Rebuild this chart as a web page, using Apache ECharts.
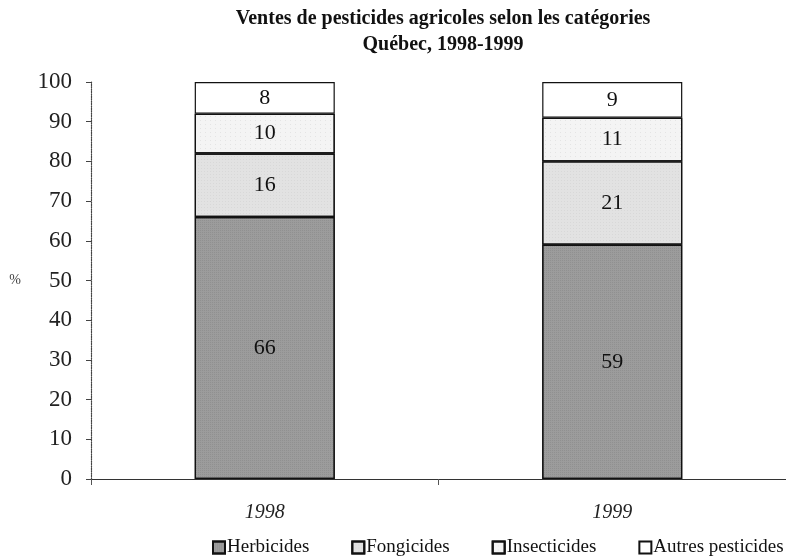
<!DOCTYPE html>
<html><head><meta charset="utf-8">
<script src="https://cdn.jsdelivr.net/npm/echarts@6/dist/echarts.min.js"></script>
<style>html,body{margin:0;padding:0;background:#fff}#c{width:786px;height:560px}</style>
</head><body><div id="c"></div>
<script>
const categories = ['1998', '1999'];
const herbicides = [66, 59];
const fongicides = [16, 21];
const insecticides = [10, 11];
const autres = [8, 9];
const seriesNames = ['Herbicides', 'Fongicides', 'Insecticides', 'Autres pesticides'];
const yTicks = [0, 100, 10];

const serif = '"Liberation Serif", "DejaVu Serif", serif';
const chart = echarts.init(document.getElementById('c'), null, {renderer: 'canvas'});
function mk(name, data, color, decal) {
  return {
    name, type: 'bar', stack: 'all', data, barWidth: '40.3%',
    itemStyle: {color, borderColor: '#111', borderWidth: 1.2, decal},
    label: {show: true, position: 'inside', fontFamily: serif, fontSize: 22, color: '#111'}
  };
}
chart.setOption({
  animation: false,
  backgroundColor: '#fff',
  aria: {enabled: false},
  title: {
    text: 'Ventes de pesticides agricoles selon les catégories\nQuébec, 1998-1999',
    left: 438, top: 1, textAlign: 'center',
    textStyle: {fontFamily: serif, fontWeight: 'bold', fontSize: 20, lineHeight: 26, color: '#111'}
  },
  legend: {
    data: seriesNames, left: 212, bottom: 3, width: 700, padding: 0,
    itemWidth: 12, itemHeight: 12, itemGap: 42, icon: 'rect',
    textStyle: {fontFamily: serif, fontSize: 19, color: '#111', padding: [0, 0, 0, -3]}
  },
  grid: {left: 91, right: -5, top: 82, bottom: 81},
  xAxis: {
    type: 'category', data: categories,
    axisLine: {lineStyle: {color: '#333', width: 1.2}},
    axisTick: {show: true, length: 6, lineStyle: {color: '#555'}},
    axisLabel: {fontFamily: serif, fontStyle: 'italic', fontSize: 20, color: '#222', margin: 24}
  },
  yAxis: {
    type: 'value', min: yTicks[0], max: yTicks[1], interval: yTicks[2],
    name: '%', nameLocation: 'middle', nameGap: 70, nameRotate: 0,
    nameTextStyle: {fontFamily: serif, fontSize: 14, color: '#444'},
    axisLine: {show: true, lineStyle: {color: '#444', type: 'dotted', width: 1.2}},
    axisTick: {show: true, inside: false, length: 5, lineStyle: {color: '#444'}},
    splitLine: {show: false},
    axisLabel: {fontFamily: serif, fontSize: 23, color: '#222', margin: 19}
  },
  series: [
    mk(seriesNames[0], herbicides, '#9c9c9c', {symbol: 'rect', symbolSize: 0.5, color: 'rgba(60,60,60,0.45)', dashArrayX: [1, 1], dashArrayY: [1, 1]}),
    mk(seriesNames[1], fongicides, '#e2e2e2', {symbol: 'rect', symbolSize: 0.5, color: 'rgba(120,120,120,0.35)', dashArrayX: [1, 2], dashArrayY: [1, 2]}),
    mk(seriesNames[2], insecticides, '#f4f4f4', {symbol: 'rect', symbolSize: 0.5, color: 'rgba(80,80,80,0.4)', dashArrayX: [1, 4], dashArrayY: [1, 3]}),
    mk(seriesNames[3], autres, '#ffffff', null)
  ]
});
</script></body></html>
